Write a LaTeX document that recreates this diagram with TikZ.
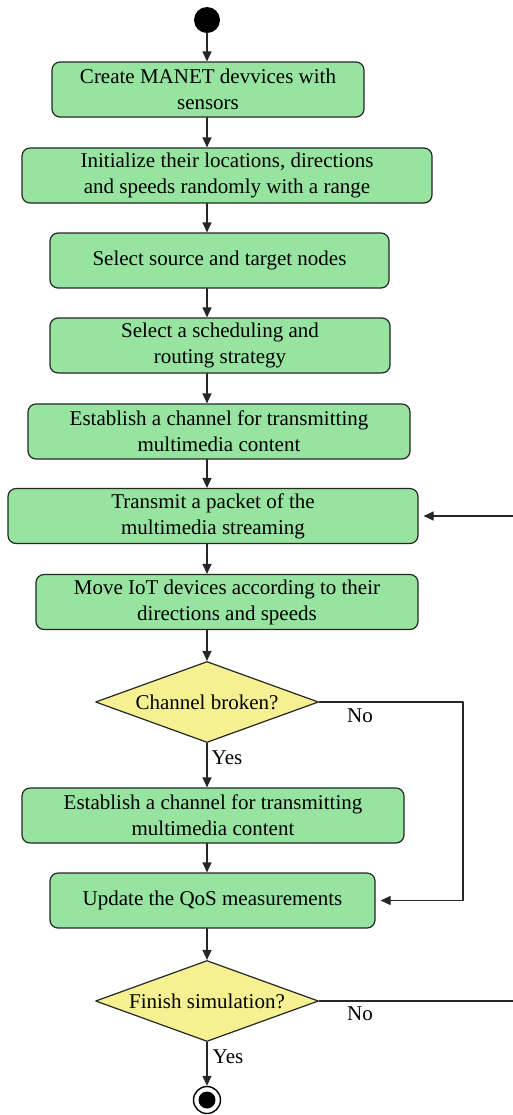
\documentclass[tikz,border=0pt]{standalone}
\usepackage{fontspec}
\setmainfont{Liberation Serif}
\usetikzlibrary{arrows.meta,shapes.geometric}
\begin{document}
\begin{tikzpicture}[x=0.5pt,y=-0.5pt,line cap=round,line join=round,
  font=\fontsize{10.5}{13}\selectfont,
  flow/.style={-{Triangle[length=5pt,width=4.5pt]},line width=0.6pt,draw=black!85},
  stepbox/.style={rectangle,rounded corners=4pt,draw=black!85,line width=0.6pt,
    fill=boxgreen,align=center,inner sep=0pt,minimum height=27.5pt},
  decision/.style={diamond,aspect=2.75,draw=black!85,line width=0.6pt,fill=boxyellow,
    inner sep=0pt,minimum width=111.5pt,minimum height=40.5pt},
  lbl/.style={inner sep=0pt}]
  \definecolor{boxgreen}{RGB}{151,228,160}
  \definecolor{boxyellow}{RGB}{245,240,145}

  \useasboundingbox (0,0) rectangle (513,1115);

  % start and end
  \node[circle,fill=black,minimum size=13pt,inner sep=0pt] (start) at (207,20) {};
  \node[circle,draw=black,line width=0.7pt,fill=white,minimum size=13.5pt,inner sep=0pt] (stop) at (207,1100) {};
  \fill[black] (stop.center) circle (8.5);

  % process steps
  \node[stepbox,minimum width=156pt] (create) at (208,89.5) {Create MANET devvices with\\sensors};
  \node[stepbox,minimum width=205pt] (init) at (227,175.5) {Initialize their locations, directions\\and speeds randomly with a range};
  \node[stepbox,minimum width=169.5pt] (select) at (219.5,260.5) {Select source and target nodes};
  \node[stepbox,minimum width=170pt] (sched) at (220,345.5) {Select a scheduling and\\routing strategy};
  \node[stepbox,minimum width=191pt] (chan) at (219,431.5) {Establish a channel for transmitting\\multimedia content};
  \node[stepbox,minimum width=205pt] (send) at (213,516) {Transmit a packet of the\\multimedia streaming};
  \node[stepbox,minimum width=191pt] (move) at (227,602) {Move IoT devices according to their\\directions and speeds};
  \node[decision] (broken) at (207,702) {Channel broken?};
  \node[stepbox,minimum width=191pt] (rechan) at (213,815.5) {Establish a channel for transmitting\\multimedia content};
  \node[stepbox,minimum width=162.5pt] (qos) at (212.5,900.5) {Update the QoS measurements};
  \node[decision] (finish) at (207,1001) {Finish simulation?};

  % helper columns
  \coordinate (axis) at (207,0);
  \coordinate (loopA) at (463,0);
  \coordinate (rim) at (513,0);

  % main flow
  \draw[flow] (start) -- (create.north -| axis);
  \draw[flow] (create.south -| axis) -- (init.north -| axis);
  \draw[flow] (init.south -| axis) -- (select.north -| axis);
  \draw[flow] (select.south -| axis) -- (sched.north -| axis);
  \draw[flow] (sched.south -| axis) -- (chan.north -| axis);
  \draw[flow] (chan.south -| axis) -- (send.north -| axis);
  \draw[flow] (send.south -| axis) -- (move.north -| axis);
  \draw[flow] (move.south -| axis) -- (broken.north);
  \draw[flow] (broken.south) -- (rechan.north -| axis);
  \draw[flow] (rechan.south -| axis) -- (qos.north -| axis);
  \draw[flow] (qos.south -| axis) -- (finish.north);
  \draw[flow] (finish.south) -- (stop.north);

  % branches
  \draw[flow,shorten >=2.5pt] (broken.east) -- (broken.east -| loopA) -- (qos.east -| loopA) -- (qos.east);
  \draw[line width=0.6pt,draw=black!85] (finish.east) -- (finish.east -| rim);
  \draw[flow,shorten >=2.5pt] (send.east -| rim) -- (send.east);

  % labels
  \node[lbl] (noA) at (360,716) {No};
  \node[lbl] (yesA) at (227,758) {Yes};
  \node[lbl] (noB) at (360,1014) {No};
  \node[lbl] (yesB) at (228,1057) {Yes};
\end{tikzpicture}
\end{document}
